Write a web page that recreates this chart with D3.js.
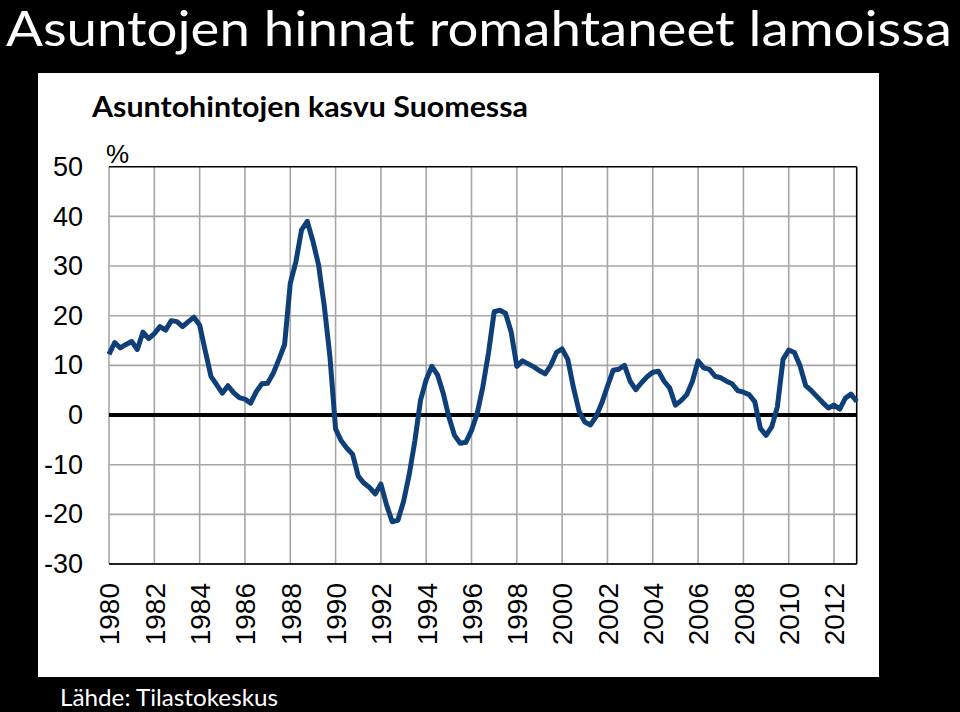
<!DOCTYPE html>
<html><head><meta charset="utf-8">
<script src="https://cdn.jsdelivr.net/npm/d3@7/dist/d3.min.js"></script>
<style>
html,body{margin:0;padding:0;background:#000;}
svg{display:block;}
</style></head>
<body>
<svg id="c" width="960" height="712"></svg>
<script>
const title = "Asuntojen hinnat romahtaneet lamoissa";
const subtitle = "Asuntohintojen kasvu Suomessa";
const unitLabel = "%";
const source = "Lähde: Tilastokeskus";
const startYear = 1980;
const endYear = 2013;
const yTicks = [-30, -20, -10, 0, 10, 20, 30, 40, 50];
const xTickYears = [1980,1982,1984,1986,1988,1990,1992,1994,1996,1998,2000,2002,2004,2006,2008,2010,2012];
// quarterly year-on-year change, %, from 1980Q1
const growth = [
 12.2,14.6,13.5,14.2,14.8,13.2,16.7,15.4,16.4,17.8,17.1,19.0,18.8,17.8,18.8,19.7,
 18.1,12.9,7.8,6.1,4.4,5.9,4.5,3.5,3.2,2.4,4.7,6.3,6.4,8.4,11.2,14.2,
 26.5,30.9,37.3,39.0,35.0,30.2,22.0,11.8,-2.8,-5.2,-6.7,-7.9,-12.3,-13.7,-14.6,-15.9,
 -13.9,-18.1,-21.5,-21.2,-17.4,-12.0,-5.2,3.0,7.1,9.8,8.1,4.4,-0.4,-4.1,-5.7,-5.5,
 -3.1,0.3,5.7,12.5,20.8,21.1,20.5,16.7,9.8,10.9,10.3,9.7,8.9,8.3,10.0,12.6,
 13.3,11.2,5.5,0.7,-1.4,-2.0,-0.3,2.4,5.8,9.0,9.2,10.0,6.8,5.1,6.5,7.7,
 8.6,8.8,6.8,5.4,2.0,2.9,4.1,6.8,10.9,9.5,9.2,7.8,7.5,6.8,6.3,4.9,
 4.6,4.1,2.7,-2.7,-4.1,-2.4,1.7,11.2,13.1,12.6,9.9,5.9,4.9,3.7,2.5,1.4,
 2.0,1.2,3.4,4.2,2.7
];

const svg = d3.select("#c");
svg.append("rect").attr("x",0).attr("y",0).attr("width",960).attr("height",712).attr("fill","#000");

svg.append("text").attr("x",6).attr("y",46)
  .attr("fill","#fff").attr("font-family","Lato, 'Open Sans', sans-serif").attr("font-size",48)
  .attr("textLength",946).attr("lengthAdjust","spacingAndGlyphs").text(title);

svg.append("rect").attr("x",38).attr("y",73).attr("width",841).attr("height",604).attr("fill","#fff");

svg.append("text").attr("x",92).attr("y",117)
  .attr("fill","#000").attr("font-family","Lato, 'Open Sans', sans-serif").attr("font-weight","bold").attr("font-size",28)
  .attr("textLength",436).attr("lengthAdjust","spacingAndGlyphs").text(subtitle);

svg.append("text").attr("x",106).attr("y",163)
  .attr("fill","#000").attr("font-family","'Liberation Sans', Arial, sans-serif").attr("font-size",26).text(unitLabel);

svg.append("text").attr("x",60).attr("y",706)
  .attr("fill","#fff").attr("font-family","Lato, 'Open Sans', sans-serif").attr("font-size",23)
  .attr("textLength",218).attr("lengthAdjust","spacingAndGlyphs").text(source);

const x = d3.scaleLinear().domain([startYear, endYear]).range([109, 856.7]);
const y = d3.scaleLinear().domain([-30, 50]).range([564, 166.7]);

// grid
const g = svg.append("g");
g.selectAll("line.h").data(yTicks.filter(v => v > -30 && v < 50 && v !== 0)).join("line")
  .attr("x1", x(startYear)).attr("x2", x(endYear)).attr("y1", d => y(d)).attr("y2", d => y(d))
  .attr("stroke", "#a6a6a6").attr("stroke-width", 1.6);
g.selectAll("line.v").data(xTickYears).join("line")
  .attr("x1", d => x(d)).attr("x2", d => x(d)).attr("y1", y(50)).attr("y2", y(-30))
  .attr("stroke", "#a6a6a6").attr("stroke-width", 1.6);
// frame
g.append("line").attr("x1", x(startYear)).attr("x2", x(endYear)).attr("y1", y(50)).attr("y2", y(50)).attr("stroke","#000").attr("stroke-width",1.6);
g.append("line").attr("x1", x(startYear)).attr("x2", x(endYear)).attr("y1", y(-30)).attr("y2", y(-30)).attr("stroke","#222").attr("stroke-width",1.8);
g.append("line").attr("x1", x(endYear)).attr("x2", x(endYear)).attr("y1", y(50)).attr("y2", y(-30)).attr("stroke","#000").attr("stroke-width",1.6);

// y axis labels
const yAxis = d3.axisLeft(y).tickValues(yTicks).tickSize(0).tickPadding(0).tickFormat(d => String(d));
const ya = svg.append("g").attr("transform", "translate(83,0)").call(yAxis);
ya.select(".domain").remove();
ya.selectAll("text").attr("font-family","'Liberation Sans', Arial, sans-serif").attr("font-size",27).attr("fill","#000");

// x axis labels
const xAxis = d3.axisBottom(x).tickValues(xTickYears).tickSize(0).tickPadding(0).tickFormat(d => String(d));
const xa = svg.append("g").attr("transform", "translate(0,583)").call(xAxis);
xa.select(".domain").remove();
xa.selectAll("text").attr("font-family","'Liberation Sans', Arial, sans-serif").attr("font-size",28).attr("fill","#000")
  .attr("transform","rotate(-90)").attr("text-anchor","end").attr("dy","0.35em").attr("x",0).attr("y",0);

// zero line
svg.append("line").attr("x1", x(startYear)).attr("x2", x(endYear)).attr("y1", y(0)).attr("y2", y(0))
  .attr("stroke","#000").attr("stroke-width",4);

// series
const line = d3.line().x((d,i) => x(startYear + i/4)).y(d => y(d));
svg.append("path").datum(growth).attr("d", line).attr("fill","none")
  .attr("stroke","#0f3f78").attr("stroke-width",5).attr("stroke-linejoin","round").attr("stroke-linecap","butt");
</script>
</body></html>
